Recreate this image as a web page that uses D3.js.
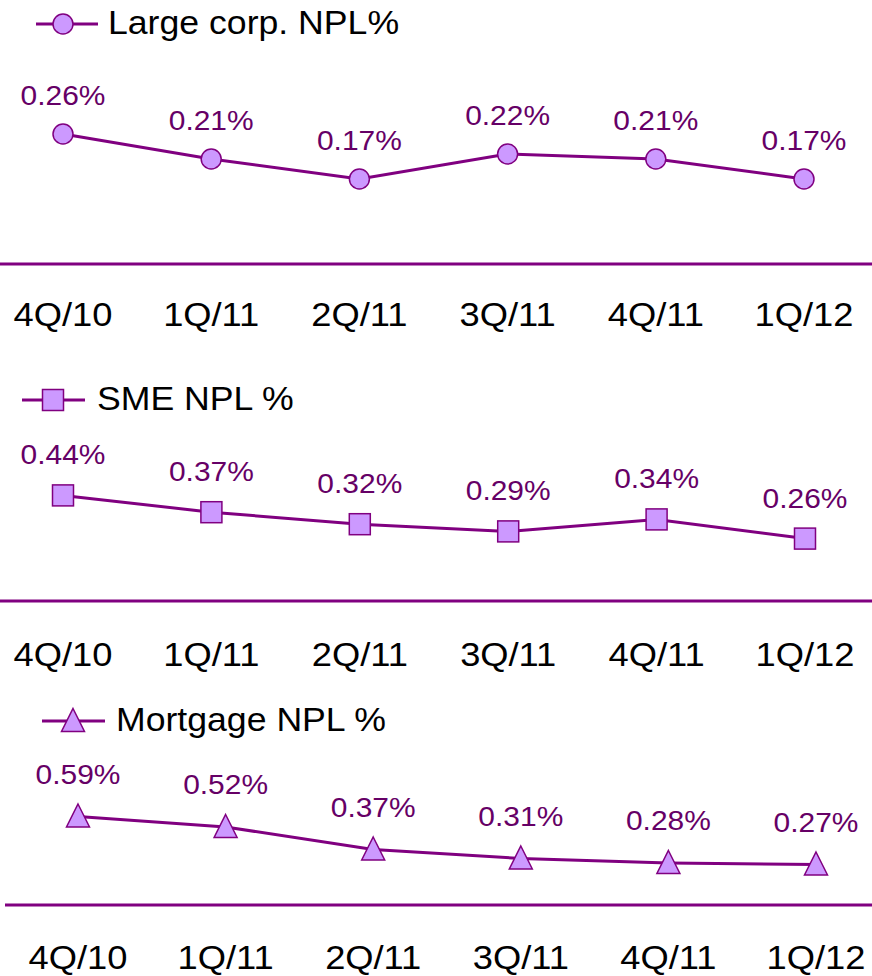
<!DOCTYPE html>
<html><head><meta charset="utf-8">
<script src="https://cdn.jsdelivr.net/npm/d3@7"></script>
<style>body{margin:0;background:#fff;}svg{display:block;}text{font-family:"Liberation Sans",Arial,sans-serif;}</style>
</head><body>
<svg id="c" width="872" height="976"></svg>
<script>
const quarters = ["4Q/10","1Q/11","2Q/11","3Q/11","4Q/11","1Q/12"];
const largeCorpNPL = [0.26,0.21,0.17,0.22,0.21,0.17];
const smeNPL = [0.44,0.37,0.32,0.29,0.34,0.26];
const mortgageNPL = [0.59,0.52,0.37,0.31,0.28,0.27];
const seriesNames = ["Large corp. NPL%","SME NPL %","Mortgage NPL %"];

const LINE = "#800080", FILL = "#cc99ff", LABEL = "#660066";
const svg = d3.select("#c");

const panels = [
  {name: seriesNames[0], values: largeCorpNPL, shape: "circle", x0: 63, x1: 804, base: 264, ymax: 0.3, ypx: 150, lineX: [0,872],
   legend: {x0: 36, x1: 98, mx: 63, y: 24, tx: 108}, tickY: 326, labOff: 29},
  {name: seriesNames[1], values: smeNPL, shape: "square", x0: 63, x1: 805, base: 601, ymax: 0.5, ypx: 120, lineX: [0,872],
   legend: {x0: 22, x1: 85, mx: 53, y: 400, tx: 97}, tickY: 666, labOff: 31},
  {name: seriesNames[2], values: mortgageNPL, shape: "triangle", x0: 78, x1: 816, base: 905, ymax: 0.6, ypx: 90, lineX: [5,872],
   legend: {x0: 42, x1: 105, mx: 73, y: 721, tx: 116}, tickY: 969, labOff: 33}
];

function marker(g, shape, cx, cy) {
  if (shape === "circle") {
    g.append("circle").attr("cx", cx).attr("cy", cy).attr("r", 10)
      .attr("fill", FILL).attr("stroke", LINE).attr("stroke-width", 1.5);
  } else if (shape === "square") {
    g.append("rect").attr("x", cx - 10.5).attr("y", cy - 10.5).attr("width", 21).attr("height", 21)
      .attr("fill", FILL).attr("stroke", LINE).attr("stroke-width", 1.5);
  } else {
    const s = 23;
    g.append("path").attr("d", `M${cx},${cy - s/2 - 1}L${cx + s/2},${cy + s/2 - 1}L${cx - s/2},${cy + s/2 - 1}Z`)
      .attr("fill", FILL).attr("stroke", LINE).attr("stroke-width", 1.5);
  }
}

// horizontally stretched text to match the reference's wide glyphs
function stretched(sel, sx) {
  return sel.attr("transform", function(d, i) {
    const x = +this.getAttribute("data-x"), y = +this.getAttribute("data-y");
    return `translate(${x},${y}) scale(${sx},1)`;
  });
}

panels.forEach(p => {
  const x = d3.scalePoint().domain(quarters).range([p.x0, p.x1]);
  const y = d3.scaleLinear().domain([0, p.ymax]).range([p.base, p.base - p.ypx]);
  const g = svg.append("g");

  g.append("line").attr("x1", p.lineX[0]).attr("x2", p.lineX[1])
    .attr("y1", p.base).attr("y2", p.base).attr("stroke", LINE).attr("stroke-width", 3);

  const ticks = g.selectAll("text.tick").data(quarters).join("text").attr("class","tick")
    .attr("data-x", d => x(d)).attr("data-y", p.tickY).attr("text-anchor","middle")
    .attr("font-size", 33).attr("fill", "#000").text(d => d);
  stretched(ticks, 1.1);

  const line = d3.line().x((d,i) => x(quarters[i])).y(d => y(d));
  g.append("path").datum(p.values).attr("d", line).attr("fill","none")
    .attr("stroke", LINE).attr("stroke-width", 3);

  p.values.forEach((v,i) => marker(g, p.shape, x(quarters[i]), y(v)));

  const labs = g.selectAll("text.lab").data(p.values).join("text").attr("class","lab")
    .attr("data-x", (d,i) => x(quarters[i])).attr("data-y", d => y(d) - p.labOff)
    .attr("text-anchor","middle").attr("font-size", 28).attr("fill", LABEL)
    .text(d => d.toFixed(2) + "%");
  stretched(labs, 1.07);

  const L = p.legend;
  g.append("line").attr("x1", L.x0).attr("x2", L.x1).attr("y1", L.y).attr("y2", L.y)
    .attr("stroke", LINE).attr("stroke-width", 3);
  marker(g, p.shape, L.mx, L.y);
  const lt = g.append("text").attr("data-x", L.tx).attr("data-y", L.y - 2).attr("dy", "0.35em")
    .attr("font-size", 33).attr("fill", "#000").text(p.name);
  stretched(lt, 1.08);
});
</script>
</body></html>
